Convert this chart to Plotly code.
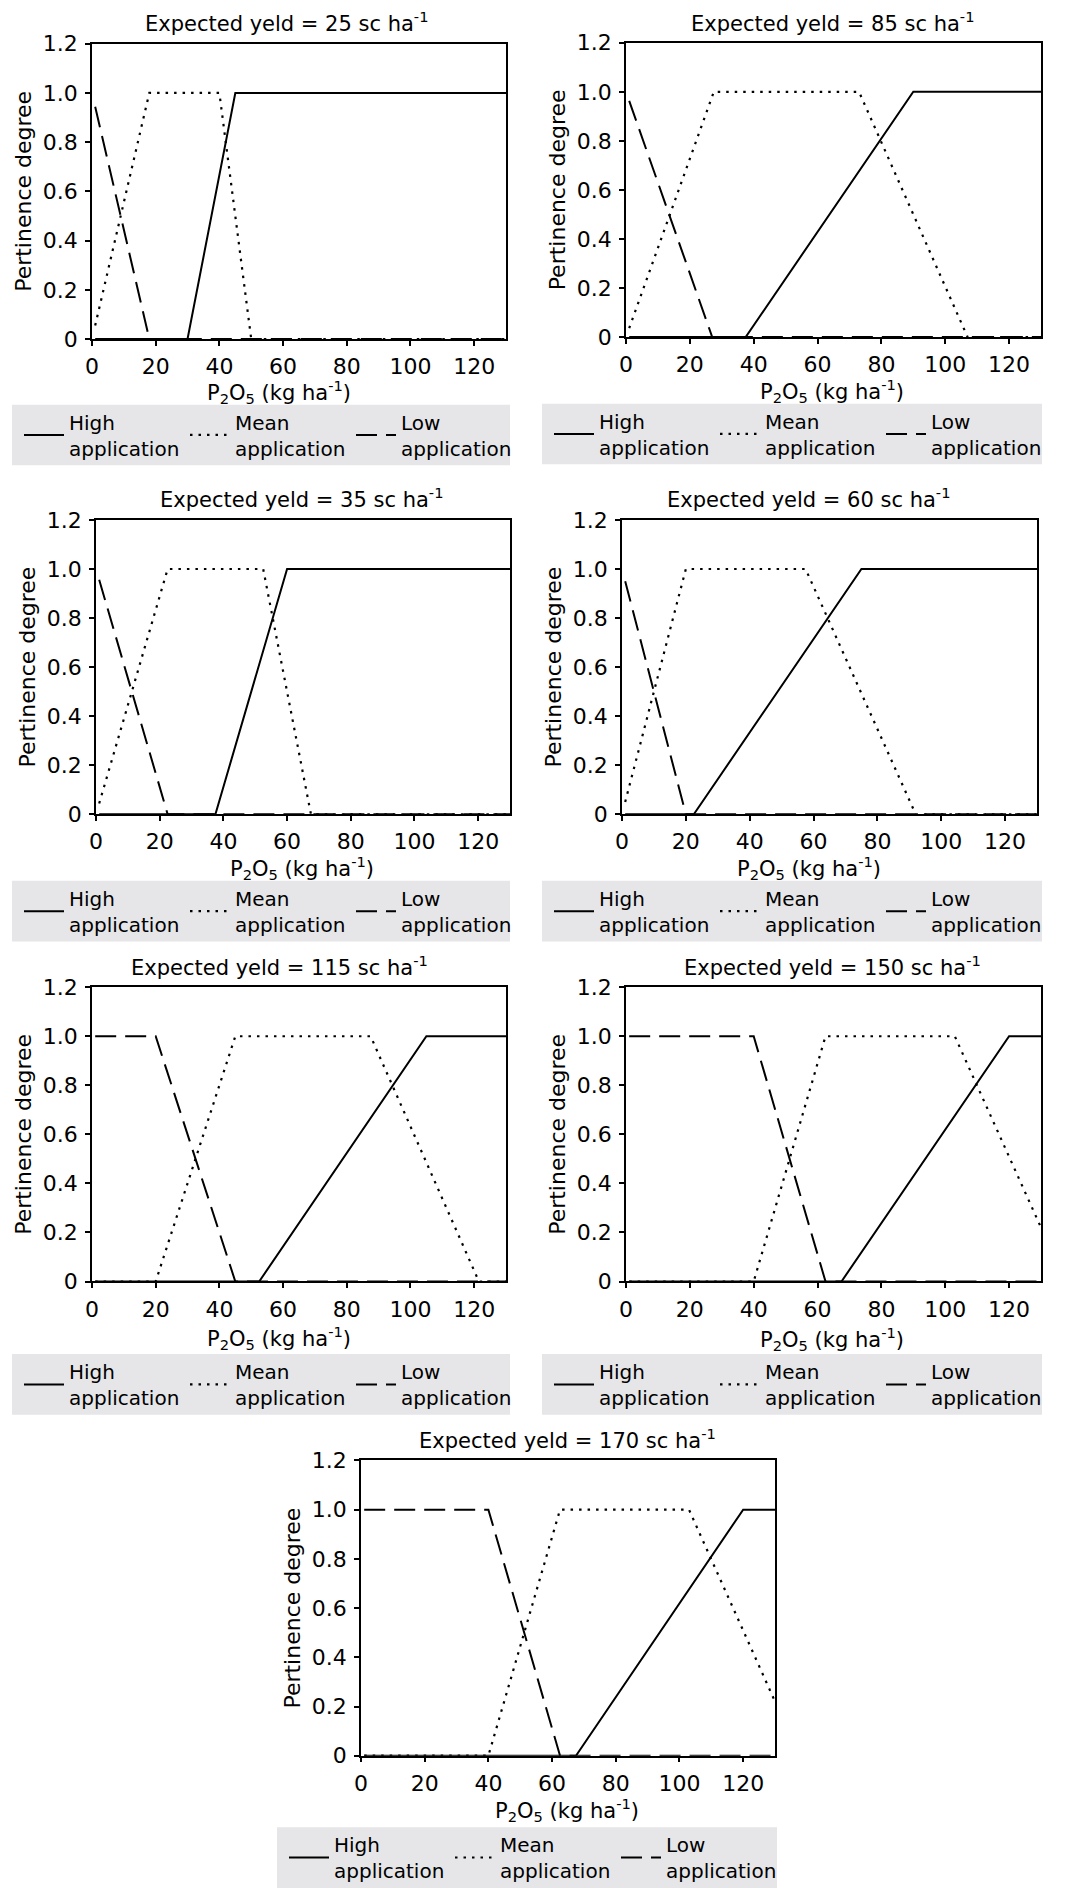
import plotly.graph_objects as go

W, H = 1068, 1890
FONT = "DejaVu Sans"

# ---------------- data ----------------
yields = [25, 85, 35, 60, 115, 150, 170]

high_x = [[1, 30, 45, 130], [1, 37.5, 90, 130], [1, 37.5, 60, 130], [1, 22.5, 75, 130],
          [1, 52.5, 105, 130], [1, 67.5, 120, 130], [1, 67.5, 120, 130]]
high_y = [[0, 0, 1, 1], [0, 0, 1, 1], [0, 0, 1, 1], [0, 0, 1, 1],
          [0, 0, 1, 1], [0, 0, 1, 1], [0, 0, 1, 1]]

mean_x = [[1, 18, 40, 50, 130], [1, 27.5, 73, 107, 130], [1, 22.5, 52.5, 67.5, 130],
          [1, 20, 57.5, 92, 130], [1, 20, 45, 87.5, 121.5, 130], [1, 40, 62.5, 103, 130],
          [1, 40, 62.5, 103, 130]]
mean_y = [[0.055, 1, 1, 0, 0], [0.036, 1, 1, 0, 0], [0.044, 1, 1, 0, 0],
          [0.05, 1, 1, 0, 0], [0, 0, 1, 1, 0, 0], [0, 0, 1, 1, 0.22],
          [0, 0, 1, 1, 0.22]]

low_x = [[1, 18, 130], [1, 27, 130], [1, 22.5, 130], [1, 20, 130],
         [1, 20, 45, 130], [1, 40, 62.5, 130], [1, 40, 62.5, 130]]
low_y = [[0.944, 0, 0], [0.963, 0, 0], [0.956, 0, 0], [0.95, 0, 0],
         [1, 1, 0, 0], [1, 1, 0, 0], [1, 1, 0, 0]]

series_names = ["High<br>application", "Mean<br>application", "Low<br>application"]
x_ticks = [0, 20, 40, 60, 80, 100, 120]
y_ticks = [0, 0.2, 0.4, 0.6, 0.8, 1.0, 1.2]
y_ticktext = ["0", "0.2", "0.4", "0.6", "0.8", "1.0", "1.2"]

# ---------------- layout geometry (pixels) ----------------
plots = [(92, 506, 44, 341), (626, 1041, 43, 339),
         (96, 510, 523, 819), (622, 1037, 523, 819),
         (92, 506, 993, 1289), (626, 1041, 993, 1289),
         (361, 775, 1469, 1766)]
title_pos = [(287, 22), (833, 22), (302, 501), (809, 501),
             (279, 972), (832, 972), (567, 1447)]
xtitle_pos = [(279, 394), (832, 393), (302, 873), (809, 873),
              (279, 1346), (832, 1347), (567, 1821)]
legend_boxes = [(12, 510, 407, 468), (542, 1042, 406, 467),
                (12, 510, 886, 947), (542, 1042, 886, 947),
                (12, 510, 1362, 1423), (542, 1042, 1362, 1423),
                (277, 777, 1838, 1899)]

styles = [dict(color="black", width=2, dash="solid"),
          dict(color="black", width=2.2, dash="2.5px,6px"),
          dict(color="black", width=2, dash="21px,9px")]

fig = go.Figure()
annotations = []
shapes = []
layout = {}

for i in range(7):
    n = "" if i == 0 else str(i + 1)
    leg = "legend" + n
    xs = [high_x[i], mean_x[i], low_x[i]]
    ys = [high_y[i], mean_y[i], low_y[i]]
    for k in range(3):
        fig.add_trace(go.Scatter(
            x=xs[k], y=ys[k], mode="lines", name=series_names[k],
            line=styles[k], xaxis="x" + n, yaxis="y" + n,
            legend=leg, showlegend=True, hoverinfo="skip"))

    l, r, t, b = plots[i]
    layout["xaxis" + n] = dict(
        domain=[l / W, r / W], anchor="y" + n, range=[0, 130],
        tickvals=x_ticks, ticks="outside", ticklen=5, tickwidth=1.5,
        tickcolor="black", showline=True, linecolor="black", linewidth=1.5,
        mirror=True, showgrid=False, zeroline=False, automargin=False,
        tickfont=dict(family=FONT, size=22, color="black"), ticklabelstandoff=2)
    layout["yaxis" + n] = dict(
        domain=[1 - b / H, 1 - t / H], anchor="x" + n, range=[0, 1.2],
        tickvals=y_ticks, ticktext=y_ticktext, ticks="outside", ticklen=5,
        tickwidth=1.5, tickcolor="black", showline=True, linecolor="black",
        linewidth=1.5, mirror=True, showgrid=False, zeroline=False,
        automargin=False, tickfont=dict(family=FONT, size=22, color="black"),
        ticklabelstandoff=3,
        title=dict(text="Pertinence degree", standoff=5,
                   font=dict(family=FONT, size=22, color="black")))

    tx, ty = title_pos[i]
    annotations.append(dict(
        text=f"Expected yeld = {yields[i]} sc ha<sup>-1</sup>", x=tx / W,
        y=1 - ty / H, xref="paper", yref="paper", showarrow=False,
        xanchor="center", yanchor="middle",
        font=dict(family=FONT, size=21, color="black")))
    ax_, ay_ = xtitle_pos[i]
    annotations.append(dict(
        text="P<sub>2</sub>O<sub>5</sub> (kg ha<sup>-1</sup>)", x=ax_ / W,
        y=1 - ay_ / H, xref="paper", yref="paper", showarrow=False,
        xanchor="center", yanchor="middle",
        font=dict(family=FONT, size=21, color="black")))

    bl, br, bt, bb = legend_boxes[i]
    shapes.append(dict(type="rect", xref="paper", yref="paper",
                       x0=bl / W, x1=br / W, y0=1 - bb / H, y1=1 - bt / H,
                       fillcolor="#e6e6e8", line=dict(width=0), layer="below"))
    layout[leg] = dict(
        orientation="h", x=(bl + 7) / W, xanchor="left",
        y=1 - ((bt + bb) / 2) / H, yanchor="middle", xref="paper", yref="paper",
        bgcolor="rgba(0,0,0,0)", borderwidth=0, traceorder="normal",
        entrywidth=111, entrywidthmode="pixels", itemwidth=40,
        font=dict(family=FONT, size=20, color="black"))

fig.update_layout(
    width=W, height=H, margin=dict(l=0, r=0, t=0, b=0),
    paper_bgcolor="white", plot_bgcolor="white", hovermode=False,
    annotations=annotations, shapes=shapes, **layout)

fig.write_html("out.html", config={"displayModeBar": False},
               post_script="document.body.style.margin='0';document.body.style.overflow='hidden';")
